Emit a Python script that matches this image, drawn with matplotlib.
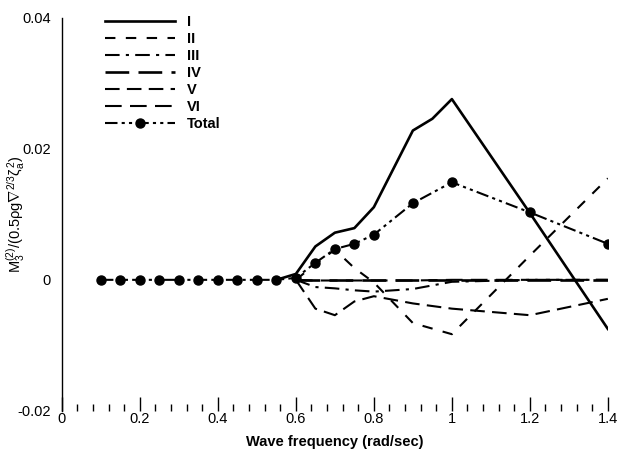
import matplotlib
matplotlib.use("Agg")
import matplotlib.pyplot as plt
from matplotlib.ticker import MultipleLocator

plt.rcParams['font.family'] = ['Liberation Sans', 'DejaVu Sans']
plt.rcParams['mathtext.fontset'] = 'custom'
plt.rcParams['mathtext.rm'] = 'Liberation Sans'
plt.rcParams['mathtext.it'] = 'Liberation Sans'

# wave frequency grids
freq_low = [0.1, 0.15, 0.2, 0.25, 0.3, 0.35, 0.4, 0.45, 0.5, 0.55]
freq_high = [0.6, 0.65, 0.7, 0.75, 0.8, 0.9, 1.0, 1.2, 1.4]
freq_I = [0.55, 0.6, 0.65, 0.7, 0.75, 0.8, 0.9, 0.95, 1.0, 1.2, 1.4]

m_I = [0.0, 0.0009, 0.0051, 0.0072, 0.0079, 0.0111, 0.0228, 0.0246, 0.0276, 0.0102, -0.0075]
m_II = [0.0, 0.0024, 0.0046, 0.0018, -0.0004, -0.0066, -0.0083, 0.0037, 0.0155]
m_III = [0.0, -0.0011, -0.0013, -0.0016, -0.0018, -0.0014, -0.0003, 0.0, 0.0]
m_IV = [0.0, 0.0, 0.0, 0.0, 0.0, 0.0, 0.0, 0.0, 0.0]
m_V = [0.0, -0.0044, -0.0054, -0.0033, -0.0025, -0.0036, -0.0044, -0.0054, -0.0029]
m_VI = [0.0, -0.0001, -0.0001, -0.0001, -0.0001, -0.0001, 0.0, 0.0, 0.0]
m_total = [0.0] * 10 + [0.0003, 0.0026, 0.0047, 0.0055, 0.0069, 0.0117, 0.0149, 0.0103, 0.0055]

fig = plt.figure(figsize=(6.19, 4.59), dpi=100)
ax = fig.add_axes([0.100, 0.105, 0.882, 0.856])

ax.plot(freq_I, m_I, color='black', lw=1.9, ls='-', label='I')
ax.plot(freq_high, m_II, color='black', lw=1.5, ls=(0, (5, 5)), label='II')
ax.plot(freq_high, m_III, color='black', lw=1.5, ls=(0, (7, 3, 1.5, 3)), label='III')
ax.plot(freq_high, m_IV, color='black', lw=1.9, ls=(0, (9, 3.5)), label='IV')
ax.plot(freq_high, m_V, color='black', lw=1.5, ls=(0, (7, 3.5)), label='V')
ax.plot(freq_high, m_VI, color='black', lw=1.5, ls=(0, (8, 4)), label='VI')
ax.plot(freq_low + freq_high, m_total, color='black', lw=1.5,
        ls=(0, (6, 2, 1.5, 2, 1.5, 2)), marker='o', ms=6.5, label='Total')

ax.set_xlim(0, 1.4)
ax.set_ylim(-0.02, 0.04)

ax.xaxis.set_minor_locator(MultipleLocator(0.04))
ax.set_xticks([0, 0.2, 0.4, 0.6, 0.8, 1.0, 1.2, 1.4])
ax.set_xticklabels(['0', '0.2', '0.4', '0.6', '0.8', '1', '1.2', '1.4'])
ax.set_yticks([-0.02, 0, 0.02, 0.04])
ax.set_yticklabels(['-0.02', '0', '0.02', '0.04'])

ax.tick_params(axis='x', which='major', direction='in', length=10, width=1, labelsize=10.5, pad=1)
ax.tick_params(axis='x', which='minor', direction='in', length=5, width=1)
ax.tick_params(axis='y', length=0, labelsize=10.5, pad=8)

for s in ['top', 'right', 'bottom']:
    ax.spines[s].set_visible(False)
ax.spines['left'].set_linewidth(1.0)

ax.set_xlabel('Wave frequency (rad/sec)', fontsize=10.5, fontweight='bold')
ax.xaxis.set_label_coords(0.5, -0.062)
ax.set_ylabel(r'M$_3^{(2)}$/(0.5$\rho$g$\nabla^{2/3}\zeta_a^2$)', fontsize=10.5)
ax.yaxis.set_label_coords(-0.062, 0.5)

leg = ax.legend(loc='upper left', bbox_to_anchor=(0.055, 1.04), frameon=False,
                handlelength=4.8, handletextpad=0.8, labelspacing=0.2,
                prop={'size': 10.5, 'weight': 'bold'})

fig.savefig('out.png', dpi=100)
